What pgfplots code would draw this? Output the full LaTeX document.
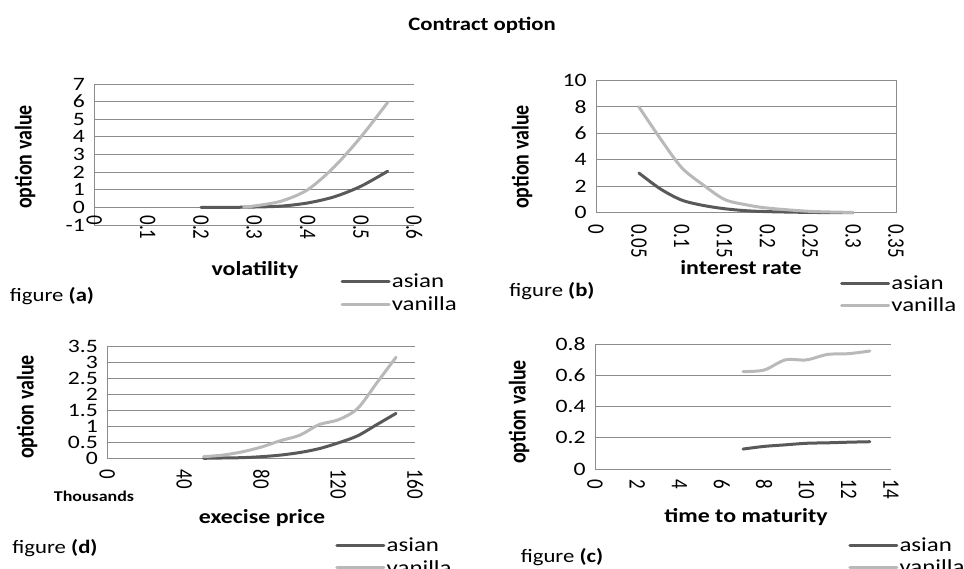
\documentclass[border=0pt]{standalone}
\usepackage{pgfplots}
\pgfplotsset{compat=1.18}
\usepackage{fontspec}
\setmainfont{Carlito}

\definecolor{asianc}{RGB}{89,89,89}
\definecolor{vanc}{RGB}{185,185,185}
\definecolor{gridc}{RGB}{140,140,140}

\pgfplotsset{
  panel/.style={
    scale only axis, anchor=south west, clip=false,
    axis lines=left, axis line style={-, gridc, line width=0.8bp},
    ymajorgrids, grid style={gridc, line width=0.8bp},
    major tick length=0pt,
    tick label style={font=\fontsize{19}{19}\selectfont},
    /pgf/number format/assume math mode=true,
    /pgf/number format/fixed, /pgf/number format/precision=2,
    yticklabel style={xscale=1.25, anchor=east, xshift=-4bp, inner ysep=0pt},
    xticklabel style={rotate=-90, yscale=1.25, anchor=west},
    legend style={draw=none, fill=none, inner sep=0pt, anchor=north west,
      font=\fontsize{20}{20}\selectfont, row sep=5bp,
      nodes={xscale=1.25, inner sep=1bp}},
    legend cell align=left,
    legend image code/.code={\draw[#1, line width=3bp] (0bp,0bp) -- (47bp,0bp);},
  },
  asian/.style={asianc, line width=3bp, smooth, line cap=round},
  vanilla/.style={vanc, line width=3bp, smooth, line cap=round},
}
\tikzset{
  xlab/.style={font=\bfseries\fontsize{20}{20}\selectfont, xscale=1.2, inner sep=0pt},
  ylab/.style={font=\bfseries\fontsize{20}{20}\selectfont, rotate=90, yscale=1.2, inner sep=0pt},
  fig/.style={font=\fontsize{19}{19}\selectfont, xscale=1.2, inner sep=0pt},
}

\begin{document}
\begin{tikzpicture}
\useasboundingbox (0bp,0bp) rectangle (964bp,569bp);

\node[xlab, font=\bfseries\fontsize{19}{19}\selectfont] at (482bp,544bp) {Contract option};

% figure (a): volatility
\begin{axis}[panel, at={(94.3bp,344bp)}, width=320bp, height=141bp,
  xmin=0, xmax=0.6, ymin=-1, ymax=7,
  xtick={0,0.1,...,0.6}, ytick={-1,0,...,7},
  xticklabel style={xshift=-13bp},
  legend style={at={(0.769,-0.34)}}]
  \addplot[asian] coordinates {(0.2,0) (0.25,0) (0.3,0.02) (0.35,0.07) (0.4,0.25) (0.45,0.6) (0.5,1.2) (0.55,2.05)};
  \addplot[vanilla] coordinates {(0.28,0.02) (0.3,0.08) (0.35,0.35) (0.4,1.0) (0.45,2.3) (0.5,4.0) (0.55,5.95)};
  \legend{asian, vanilla}
\end{axis}
\node[ylab] at (25bp,412bp) {option value};
\node[xlab] at (255bp,299bp) {volatility};
\node[fig] at (52bp,273bp) {figure \textbf{(a)}};

% figure (b): interest rate
\begin{axis}[panel, at={(596bp,356.3bp)}, width=300bp, height=132.4bp,
  axis lines=box,
  xmin=0, xmax=0.35, ymin=0, ymax=10,
  xtick={0,0.05,...,0.35}, ytick={0,2,...,10},
  xticklabel style={xshift=8bp},
  legend style={at={(0.813,-0.465)}}]
  \addplot[asian] coordinates {(0.05,3.0) (0.075,1.8) (0.1,0.95) (0.125,0.55) (0.15,0.3) (0.175,0.15) (0.2,0.08) (0.25,0.02) (0.3,0)};
  \addplot[vanilla] coordinates {(0.05,8.0) (0.075,5.6) (0.1,3.4) (0.125,2.1) (0.15,1.0) (0.175,0.6) (0.2,0.35) (0.25,0.1) (0.3,0.02)};
  \legend{asian, vanilla}
\end{axis}
\node[ylab] at (522bp,412bp) {option value};
\node[xlab] at (741bp,301bp) {interest rate};
\node[fig] at (552bp,278bp) {figure \textbf{(b)}};

% figure (d): exercise price (thousands)
\begin{axis}[panel, at={(107.3bp,110.7bp)}, width=308bp, height=112.3bp,
  xmin=0, xmax=160, ymin=0, ymax=3.5,
  xtick={0,40,...,160}, ytick={0,0.5,...,3.5},
  xticklabel style={xshift=8bp},
  legend style={at={(0.740,-0.70)}}]
  \addplot[asian] coordinates {(50,0) (60,0.01) (70,0.02) (80,0.05) (90,0.1) (100,0.18) (110,0.3) (120,0.48) (130,0.7) (140,1.05) (150,1.4)};
  \addplot[vanilla] coordinates {(50,0.05) (60,0.1) (70,0.2) (80,0.35) (90,0.55) (100,0.72) (110,1.05) (120,1.2) (130,1.55) (140,2.35) (150,3.15)};
  \legend{asian, vanilla}
\end{axis}
\node[ylab] at (27bp,162bp) {option value};
\node[xlab] at (262bp,51bp) {execise price};
\node[xlab, font=\bfseries\fontsize{15}{15}\selectfont] at (94bp,73bp) {Thousands};
\node[fig] at (55bp,21bp) {figure \textbf{(d)}};

% figure (c): time to maturity
\begin{axis}[panel, at={(595bp,100bp)}, width=296bp, height=124.7bp,
  xmin=0, xmax=14, ymin=0, ymax=0.8,
  xtick={0,2,...,14}, ytick={0,0.2,...,0.8},
  xticklabel style={xshift=7bp},
  legend style={at={(0.855,-0.54)}}]
  \addplot[asian] coordinates {(7,0.128) (8,0.145) (9,0.155) (10,0.165) (11,0.168) (12,0.172) (13,0.175)};
  \addplot[vanilla] coordinates {(7,0.625) (8,0.635) (9,0.70) (10,0.70) (11,0.735) (12,0.74) (13,0.757)};
  \legend{asian, vanilla}
\end{axis}
\node[ylab] at (519bp,157bp) {option value};
\node[xlab] at (746bp,52bp) {time to maturity};
\node[fig] at (562bp,12bp) {figure \textbf{(c)}};
\end{tikzpicture}
\end{document}
